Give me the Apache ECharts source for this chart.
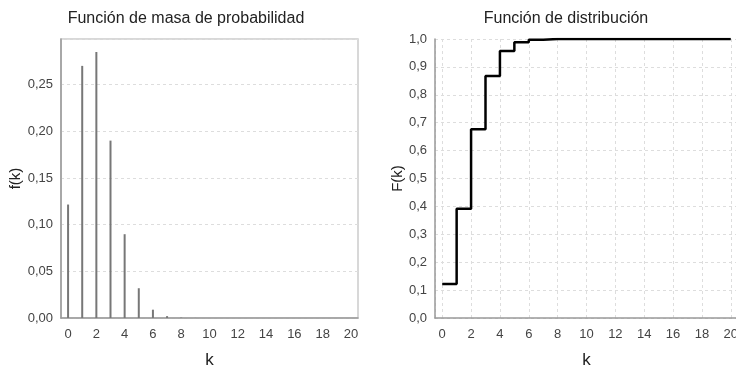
<!DOCTYPE html>
<html>
<head>
<meta charset="utf-8">
<script src="https://cdn.jsdelivr.net/npm/echarts@6/dist/echarts.min.js"></script>
<style>
  html, body { margin: 0; padding: 0; background: #fff; }
  #chart { width: 736px; height: 367px; }
</style>
</head>
<body>
<div id="chart"></div>
<script>
// k = 0..20 (binomial-looking distribution)
const ks = [0,1,2,3,4,5,6,7,8,9,10,11,12,13,14,15,16,17,18,19,20];
const pmf = [0.1216,0.2702,0.2852,0.1901,0.0898,0.0319,0.0089,0.0020,0.0004,0.0001,0,0,0,0,0,0,0,0,0,0,0];
const cdf = [0.1216,0.3917,0.6769,0.8670,0.9568,0.9887,0.9976,0.9996,0.9999,1,1,1,1,1,1,1,1,1,1,1,1];
const titles = ["Función de masa de probabilidad", "Función de distribución"];
const yNames = ["f(k)", "F(k)"];

const FONT = "Liberation Sans Narrow, Liberation Sans, sans-serif";
let chart = echarts.init(document.getElementById("chart"), null, { renderer: "canvas" });

let comma = (d) => (v) => v.toFixed(d).replace(".", ",");

let xAxisBase = (gi, vgrid) => ({
  gridIndex: gi,
  type: "value",
  name: "k",
  nameLocation: "middle",
  nameGap: 34,
  nameTextStyle: { fontFamily: FONT, fontSize: 17, color: "#222" },
  min: -0.5,
  max: 20.5,
  splitNumber: 10,
  axisLine: { show: true, onZero: false, lineStyle: { color: "#999", width: 1.5 } },
  axisTick: { show: false },
  axisLabel: {
    fontFamily: FONT, fontSize: 13, color: "#444", margin: 10,
    showMinLabel: false, showMaxLabel: false,
    formatter: (v) => (Number.isInteger(v) ? String(v) : ""),
  },
  splitLine: { show: vgrid, lineStyle: { color: "#ddd", type: [3, 3] } },
});

let yAxisBase = (gi, max, step, dec, gap, ymax) => ({
  gridIndex: gi, type: "value", min: 0, max: max, interval: step,
  name: yNames[gi], nameLocation: "middle", nameGap: gap,
  nameTextStyle: { fontFamily: FONT, fontSize: 15, color: "#222" },
  axisLine: { show: true, onZero: false, lineStyle: { color: "#999", width: 1.5 } },
  axisTick: { show: false },
  axisLabel: { fontFamily: FONT, fontSize: 13, color: "#444", margin: 8,
    showMaxLabel: ymax, formatter: comma(dec) },
  splitLine: { show: true, lineStyle: { color: "#ddd", type: [3, 3] } },
});

let option = {
  animation: false,
  title: [
    { text: titles[0], left: 181, top: 6, textAlign: "center",
      textStyle: { fontFamily: FONT, fontSize: 16, fontWeight: "normal", color: "#222" } },
    { text: titles[1], left: 561, top: 6, textAlign: "center",
      textStyle: { fontFamily: FONT, fontSize: 16, fontWeight: "normal", color: "#222" } },
  ],
  grid: [
    { left: 61, top: 39, width: 297, height: 279, outerBoundsMode: "none",
      show: true, borderColor: "#ccc", borderWidth: 1.5 },
    { left: 435, top: 39, width: 303, height: 279, outerBoundsMode: "none" },
  ],
  xAxis: [xAxisBase(0, false), xAxisBase(1, true)],
  yAxis: [
    yAxisBase(0, 0.299, 0.05, 2, 32, false),
    yAxisBase(1, 1, 0.1, 1, 26, true),
  ],
  series: [
    {
      type: "bar",
      xAxisIndex: 0, yAxisIndex: 0,
      barWidth: 2,
      itemStyle: { color: "#777" },
      data: ks.map((k, i) => [k, pmf[i]]),
    },
    {
      type: "line",
      xAxisIndex: 1, yAxisIndex: 1,
      step: "end",
      symbol: "none",
      lineStyle: { color: "#000", width: 2.5 },
      data: ks.map((k, i) => [k, cdf[i]]),
    },
  ],
};
chart.setOption(option);
</script>
</body>
</html>
